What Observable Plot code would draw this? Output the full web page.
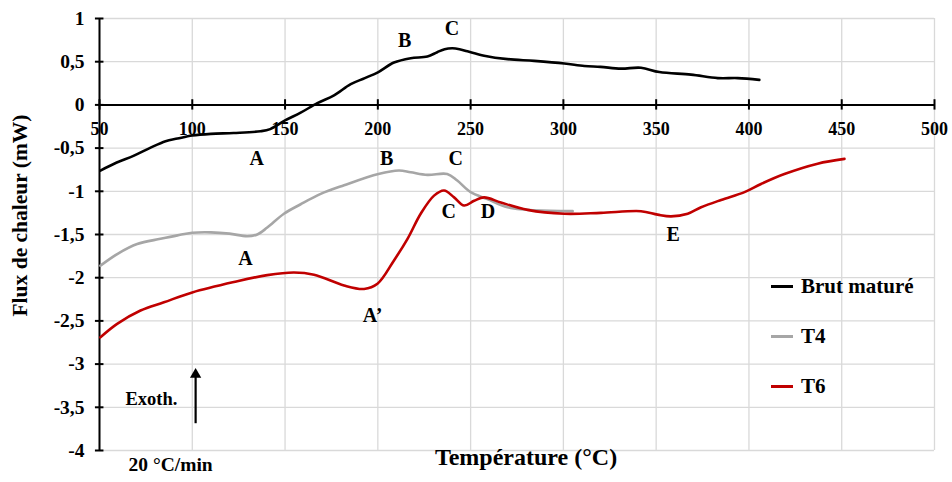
<!DOCTYPE html>
<html>
<head>
<meta charset="utf-8">
<script src="https://cdn.jsdelivr.net/npm/d3@7"></script>
<script src="https://cdn.jsdelivr.net/npm/@observablehq/plot@0.6"></script>
<style>
  html, body { margin: 0; padding: 0; background: #fff; }
  #wrap { position: relative; width: 952px; height: 482px; font-family: "Liberation Serif", "Times New Roman", serif; }
  #legend { position: absolute; left: 771px; top: 273px; font-weight: bold; font-size: 21px; color: #000; }
  #legend .item { display: flex; align-items: center; height: 27px; margin-bottom: 23px; }
  #legend .sw { width: 22px; height: 3px; margin-right: 8px; }
</style>
</head>
<body>
<div id="wrap">
  <div id="chart"></div>
  <div id="legend"></div>
</div>
<script>
// ---- Data ----
const seriesNames = ["Brut maturé", "T4", "T6"];
const seriesColors = ["#000000", "#a6a6a6", "#c00000"];

const brutT = [50.5, 59, 68.3, 77, 85.6, 92, 100, 110, 122.3, 136.8, 142, 150, 158.4, 167.4, 176.4, 185.4, 193, 200.3, 208.7, 217.7, 226.7, 232, 236, 240.2, 244, 248.3, 257.3, 269.9, 284.3, 300.5, 311.3, 320, 331, 341.8, 351.7, 368.8, 383.2, 394, 405.6];
const brutV = [-0.76, -0.67, -0.59, -0.5, -0.42, -0.39, -0.355, -0.335, -0.325, -0.305, -0.28, -0.18, -0.09, 0.02, 0.11, 0.24, 0.31, 0.38, 0.49, 0.54, 0.56, 0.61, 0.645, 0.655, 0.645, 0.62, 0.57, 0.53, 0.51, 0.48, 0.45, 0.44, 0.42, 0.43, 0.38, 0.35, 0.31, 0.31, 0.29];

const t4T = [50.5, 60, 70.3, 82.9, 92, 100, 110, 120, 129.6, 135, 140.4, 149.4, 158.4, 169.2, 181.8, 200.3, 211.4, 217.7, 226.7, 237.4, 242.8, 250, 259, 269.9, 284.3, 305];
const t4V = [-1.86, -1.72, -1.61, -1.55, -1.51, -1.48, -1.475, -1.49, -1.52, -1.5, -1.42, -1.26, -1.15, -1.03, -0.93, -0.8, -0.76, -0.78, -0.81, -0.8, -0.876, -1.01, -1.09, -1.185, -1.22, -1.23];

const t6T = [50.5, 59.5, 72.1, 84.7, 100, 122.4, 140.4, 154.8, 165.6, 181.8, 192.6, 199.8, 208.7, 216, 223.1, 230.3, 235.7, 241.1, 246.5, 251.9, 257.3, 266.3, 280.7, 300.5, 320.2, 341.8, 350.8, 358, 367, 374.2, 385, 397.6, 406.5, 419.1, 437, 451.5];
const t6V = [-2.69, -2.535, -2.38, -2.285, -2.17, -2.05, -1.97, -1.94, -1.965, -2.09, -2.13, -2.07, -1.8, -1.55, -1.26, -1.05, -0.99, -1.07, -1.165, -1.11, -1.07, -1.13, -1.215, -1.26, -1.25, -1.23, -1.27, -1.29, -1.26, -1.185, -1.1, -1.01, -0.915, -0.8, -0.68, -0.625];

const xTicks = [50, 100, 150, 200, 250, 300, 350, 400, 450, 500];
const yTicks = [1, 0.5, 0, -0.5, -1, -1.5, -2, -2.5, -3, -3.5, -4];

// peak labels: text, temperature, flux
const peakText = ["A", "B", "C", "A", "B", "C", "C", "D", "A\u2019", "E"];
const peakT = [134.7, 214.5, 239.9, 128.7, 204.8, 242, 238.2, 259.3, 197.2, 359.1];
const peakV = [-0.62, 0.74, 0.88, -1.78, -0.62, -0.62, -1.235, -1.235, -2.44, -1.5];

const exoLabel = "Exoth.";
const rateLabel = "20 \u00b0C/min";
const xTitle = "Temp\u00e9rature (\u00b0C)";
const yTitle = "Flux de chaleur (mW)";

// ---- Build tables ----
const rows = [];
[[brutT, brutV], [t4T, t4V], [t6T, t6V]].forEach(([T, V], s) => {
  T.forEach((t, i) => rows.push({series: seriesNames[s], t, v: V[i]}));
});
const peaks = peakText.map((text, i) => ({text, t: peakT[i], v: peakV[i]}));
const fmt = d => String(d).replace(".", ",");

const font = "Liberation Serif";
const chart = Plot.plot({
  width: 952,
  height: 482,
  marginLeft: 99,
  marginRight: 18,
  marginTop: 18,
  marginBottom: 32,
  style: {fontFamily: font, fontWeight: "bold", fontSize: "18px", color: "#000", background: "#fff"},
  x: {domain: [50, 500]},
  y: {domain: [-4, 1]},
  color: {domain: seriesNames, range: seriesColors},
  marks: [
    Plot.gridX(xTicks, {stroke: "#d9d9d9", strokeOpacity: 1, strokeWidth: 1.3}),
    Plot.gridY(yTicks, {stroke: "#d9d9d9", strokeOpacity: 1, strokeWidth: 1.3}),
    Plot.axisY(yTicks, {tickSize: 0, tickPadding: 15, tickFormat: fmt, label: null, fontSize: 19.5, fontWeight: "bold"}),
    Plot.axisX([], {label: null, tickSize: 0}),
    // y axis line and crossing ticks
    Plot.ruleX([50], {stroke: "#000", strokeWidth: 2}),
    Plot.ruleY(yTicks, {x1: 47.8, x2: 52.4, stroke: "#000", strokeWidth: 2}),
    // x axis at zero with crossing ticks
    Plot.ruleY([0], {stroke: "#000", strokeWidth: 2}),
    Plot.ruleX(xTicks, {y1: -0.06, y2: 0.06, stroke: "#000", strokeWidth: 2}),
    Plot.text(xTicks, {x: d => d, y: 0, dy: 24, text: d => String(d), fontSize: 18, fontWeight: "bold", fill: "#000"}),
    // curves
    Plot.line(rows, {x: "t", y: "v", z: "series", stroke: "series", strokeWidth: 2.6, curve: "catmull-rom"}),
    // peak labels
    Plot.text(peaks, {x: "t", y: "v", text: "text", fontSize: 20, fontWeight: "bold", fill: "#000"}),
    // exotherm arrow
    Plot.ruleX([101.8], {y1: -3.69, y2: -3.14, stroke: "#000", strokeWidth: 2.2}),
    Plot.dot([101.8], {x: d => d, y: -3.12, symbol: "triangle", r: 4.2, fill: "#000", stroke: "none"}),
    Plot.text([exoLabel], {x: 78, y: -3.4, text: d => d, fontSize: 18.5, fontWeight: "bold", fill: "#000"}),
    // titles
    Plot.text([rateLabel], {frameAnchor: "bottom-left", textAnchor: "start", dx: 29, dy: 20, text: d => d, fontSize: 19.5, fontWeight: "bold", fill: "#000"}),
    Plot.text([xTitle], {frameAnchor: "bottom", textAnchor: "middle", dx: 9, dy: 14, text: d => d, fontSize: 24, fontWeight: "bold", fill: "#000"}),
    Plot.text([yTitle], {frameAnchor: "left", textAnchor: "middle", dx: -79, dy: -19, rotate: -90, text: d => d, fontSize: 21.5, fontWeight: "bold", fill: "#000"})
  ]
});
document.getElementById("chart").appendChild(chart);

// legend
const legend = document.getElementById("legend");
seriesNames.forEach((name, i) => {
  const item = document.createElement("div");
  item.className = "item";
  const sw = document.createElement("span");
  sw.className = "sw";
  sw.style.background = seriesColors[i];
  const label = document.createElement("span");
  label.textContent = name;
  item.appendChild(sw);
  item.appendChild(label);
  legend.appendChild(item);
});
</script>
</body>
</html>
